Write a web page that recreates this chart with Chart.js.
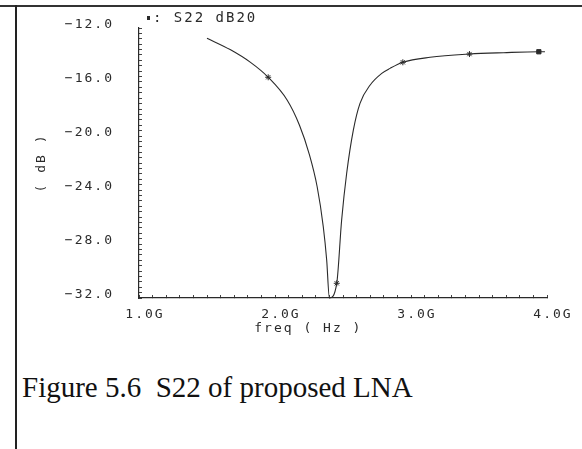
<!DOCTYPE html>
<html>
<head>
<meta charset="utf-8">
<script src="https://cdn.jsdelivr.net/npm/chart.js@4.4.1/dist/chart.umd.min.js"></script>
<style>
  html, body { margin: 0; padding: 0; background: #fff; }
  #page { position: relative; width: 582px; height: 449px; overflow: hidden; background: #fff; }
  #topline { position: absolute; left: 0; top: 5px; width: 582px; height: 0; border-top: 2px solid #333; }
  #leftline { position: absolute; left: 15px; top: 5px; width: 0; height: 444px; border-left: 2px solid #222; }
  #wrap { position: absolute; left: 0; top: 0; width: 582px; height: 340px; }
  #caption { position: absolute; left: 22px; top: 371px; font-family: "Liberation Serif", serif; font-size: 29px; color: #111; white-space: pre; }
</style>
</head>
<body>
<div id="page">
  <div id="topline"></div>
  <div id="leftline"></div>
  <div id="wrap"><canvas id="chart"></canvas></div>
  <div id="caption">Figure 5.6  S22 of proposed LNA</div>
</div>
<script>
'use strict';
// S22 trace (freq in GHz, value in dB)
var freqGHz = [1.50, 1.67, 1.82, 1.95, 2.09, 2.18, 2.25, 2.31, 2.355, 2.38, 2.40,
  2.454, 2.49, 2.527, 2.576, 2.625, 2.70, 2.785, 2.846, 2.94, 3.14, 3.43, 3.68, 3.94, 3.985];
var s22dB = [-12.76, -13.60, -14.55, -15.65, -17.35, -19.20, -21.28, -23.76, -26.72, -29.19, -32.0,
  -30.91, -26.22, -22.76, -19.56, -17.58, -16.22, -15.36, -14.99, -14.54, -14.17, -13.93, -13.83, -13.76, -13.76];
// indices where the plotter put its markers
var markerIdx = [3, 11, 19, 21, 23];

var yMin = -32, yMax = -12, yMajor = 4, yMinor = 0.4;
var xMin = 1, xMax = 4, xMinor = 0.1;
var legendText = ': S22 dB20';
var xTitle = 'freq ( Hz )';
var yTitle = '( dB )';

var monoFont = '"DejaVu Sans Mono", monospace';
var inkColor = '#2a2a2a';

var points = [];
for (var i = 0; i < freqGHz.length; i++) {
  points.push({ x: freqGHz[i], y: s22dB[i] });
}
var radii = freqGHz.map(function (f, i) { return markerIdx.indexOf(i) >= 0 ? 3 : 0; });
var styles = freqGHz.map(function (f, i) { return i === markerIdx[markerIdx.length - 1] ? 'rect' : 'star'; });

// draw extra cadence-style texts (legend, x title) and set letter spacing
var cadenceText = {
  id: 'cadenceText',
  beforeDraw: function (chart) {
    chart.ctx.letterSpacing = '2px';
  },
  afterDraw: function (chart) {
    var ctx = chart.ctx;
    var area = chart.chartArea;
    ctx.save();
    ctx.letterSpacing = '2px';
    ctx.fillStyle = inkColor;
    ctx.textBaseline = 'middle';
    ctx.textAlign = 'left';
    // legend marker + label
    ctx.fillRect(area.left + 8, area.top - 12, 3, 4);
    ctx.font = '14px ' + monoFont;
    ctx.fillText(legendText, area.left + 14, area.top - 10);
    // x title (sits left of centre in the original)
    ctx.font = '13px ' + monoFont;
    ctx.textAlign = 'center';
    ctx.fillText(xTitle, area.left + area.width * 0.415, area.bottom + 31);
    ctx.restore();
  }
};

var ctx = document.getElementById('chart').getContext('2d');
var chart = new Chart(ctx, {
  type: 'line',
  data: {
    datasets: [{
      label: 'S22 dB20',
      data: points,
      borderColor: inkColor,
      borderWidth: 1.1,
      backgroundColor: inkColor,
      pointRadius: radii,
      pointStyle: styles,
      pointBorderColor: inkColor,
      pointBackgroundColor: inkColor,
      pointBorderWidth: 1,
      cubicInterpolationMode: 'monotone',
      fill: false,
      clip: false
    }]
  },
  options: {
    responsive: true,
    maintainAspectRatio: false,
    animation: false,
    devicePixelRatio: 1,
    layout: { padding: { left: 20, right: 35, top: 28, bottom: 0 } },
    plugins: {
      legend: { display: false },
      tooltip: { enabled: false }
    },
    scales: {
      x: {
        type: 'linear',
        min: xMin,
        max: xMax,
        border: { display: true, color: inkColor, width: 1.2 },
        grid: { display: true, drawOnChartArea: false, drawTicks: true, tickLength: -3, tickColor: '#444', tickWidth: 1 },
        ticks: {
          stepSize: xMinor,
          maxTicksLimit: 100,
          autoSkip: false,
          maxRotation: 0,
          padding: 12,
          labelOffset: 6,
          color: inkColor,
          font: { family: monoFont, size: 13 },
          callback: function (v) {
            var r = Math.round(v * 10) / 10;
            return Math.abs(r - Math.round(r)) < 1e-6 ? r.toFixed(1) + 'G' : '';
          }
        },
        afterFit: function (scale) {
          scale.height = 42;
          scale.paddingLeft = 0;
          scale.paddingRight = 0;
        }
      },
      y: {
        type: 'linear',
        min: yMin,
        max: yMax,
        border: { display: true, color: inkColor, width: 1.2 },
        grid: { display: true, drawOnChartArea: false, drawTicks: true, tickLength: -3, tickColor: '#444', tickWidth: 1 },
        ticks: {
          stepSize: yMinor,
          maxTicksLimit: 100,
          autoSkip: false,
          padding: 28,
          labelOffset: -3,
          color: inkColor,
          font: { family: monoFont, size: 13 },
          callback: function (v) {
            var r = Math.round(v * 10) / 10;
            return Math.abs(r % yMajor) < 1e-6 ? '\u2212' + Math.abs(r).toFixed(1) : '';
          }
        },
        title: {
          display: true,
          text: yTitle,
          color: inkColor,
          font: { family: monoFont, size: 13 },
          padding: { top: 14, bottom: 0 }
        },
        afterFit: function (scale) {
          scale.width = 119;
          scale.paddingTop = 0;
          scale.paddingBottom = 0;
        }
      }
    }
  },
  plugins: [cadenceText]
});
</script>
</body>
</html>
